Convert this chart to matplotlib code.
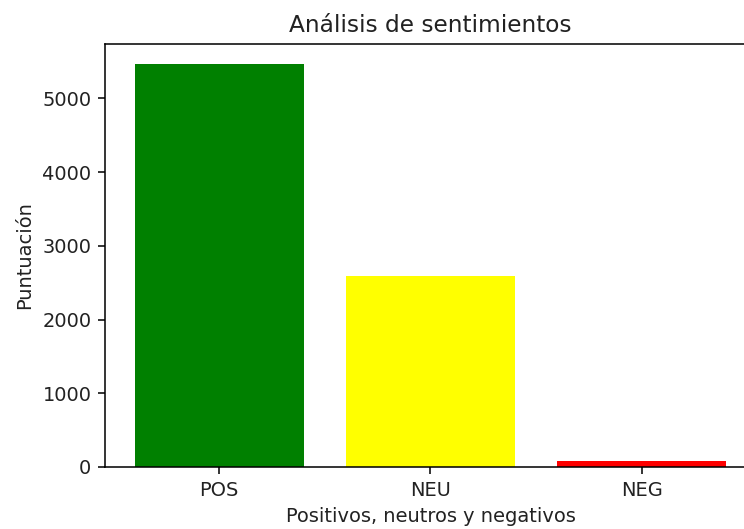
import matplotlib
matplotlib.use("Agg")
import matplotlib.pyplot as plt

categories = ["POS", "NEU", "NEG"]
scores = [5465, 2592, 85]
colors = ["green", "yellow", "red"]

# the reference looks like default matplotlib styling rendered at ~139 dpi,
# with the right edge of the axes cropped off the picture
DPI = 139.5
fig = plt.figure(figsize=(744 / DPI, 529 / DPI), dpi=DPI)
ax = fig.add_axes([105 / 744, 1 - 467 / 529, 651 / 744, 423 / 529])
ax.bar(categories, scores, color=colors, width=0.8)

ax.set_title("Análisis de sentimientos", color="#222222")
ax.set_xlabel("Positivos, neutros y negativos", color="#222222")
ax.set_ylabel("Puntuación", color="#222222")
ax.tick_params(labelcolor="#222222")

fig.savefig("out.png", dpi=DPI)
